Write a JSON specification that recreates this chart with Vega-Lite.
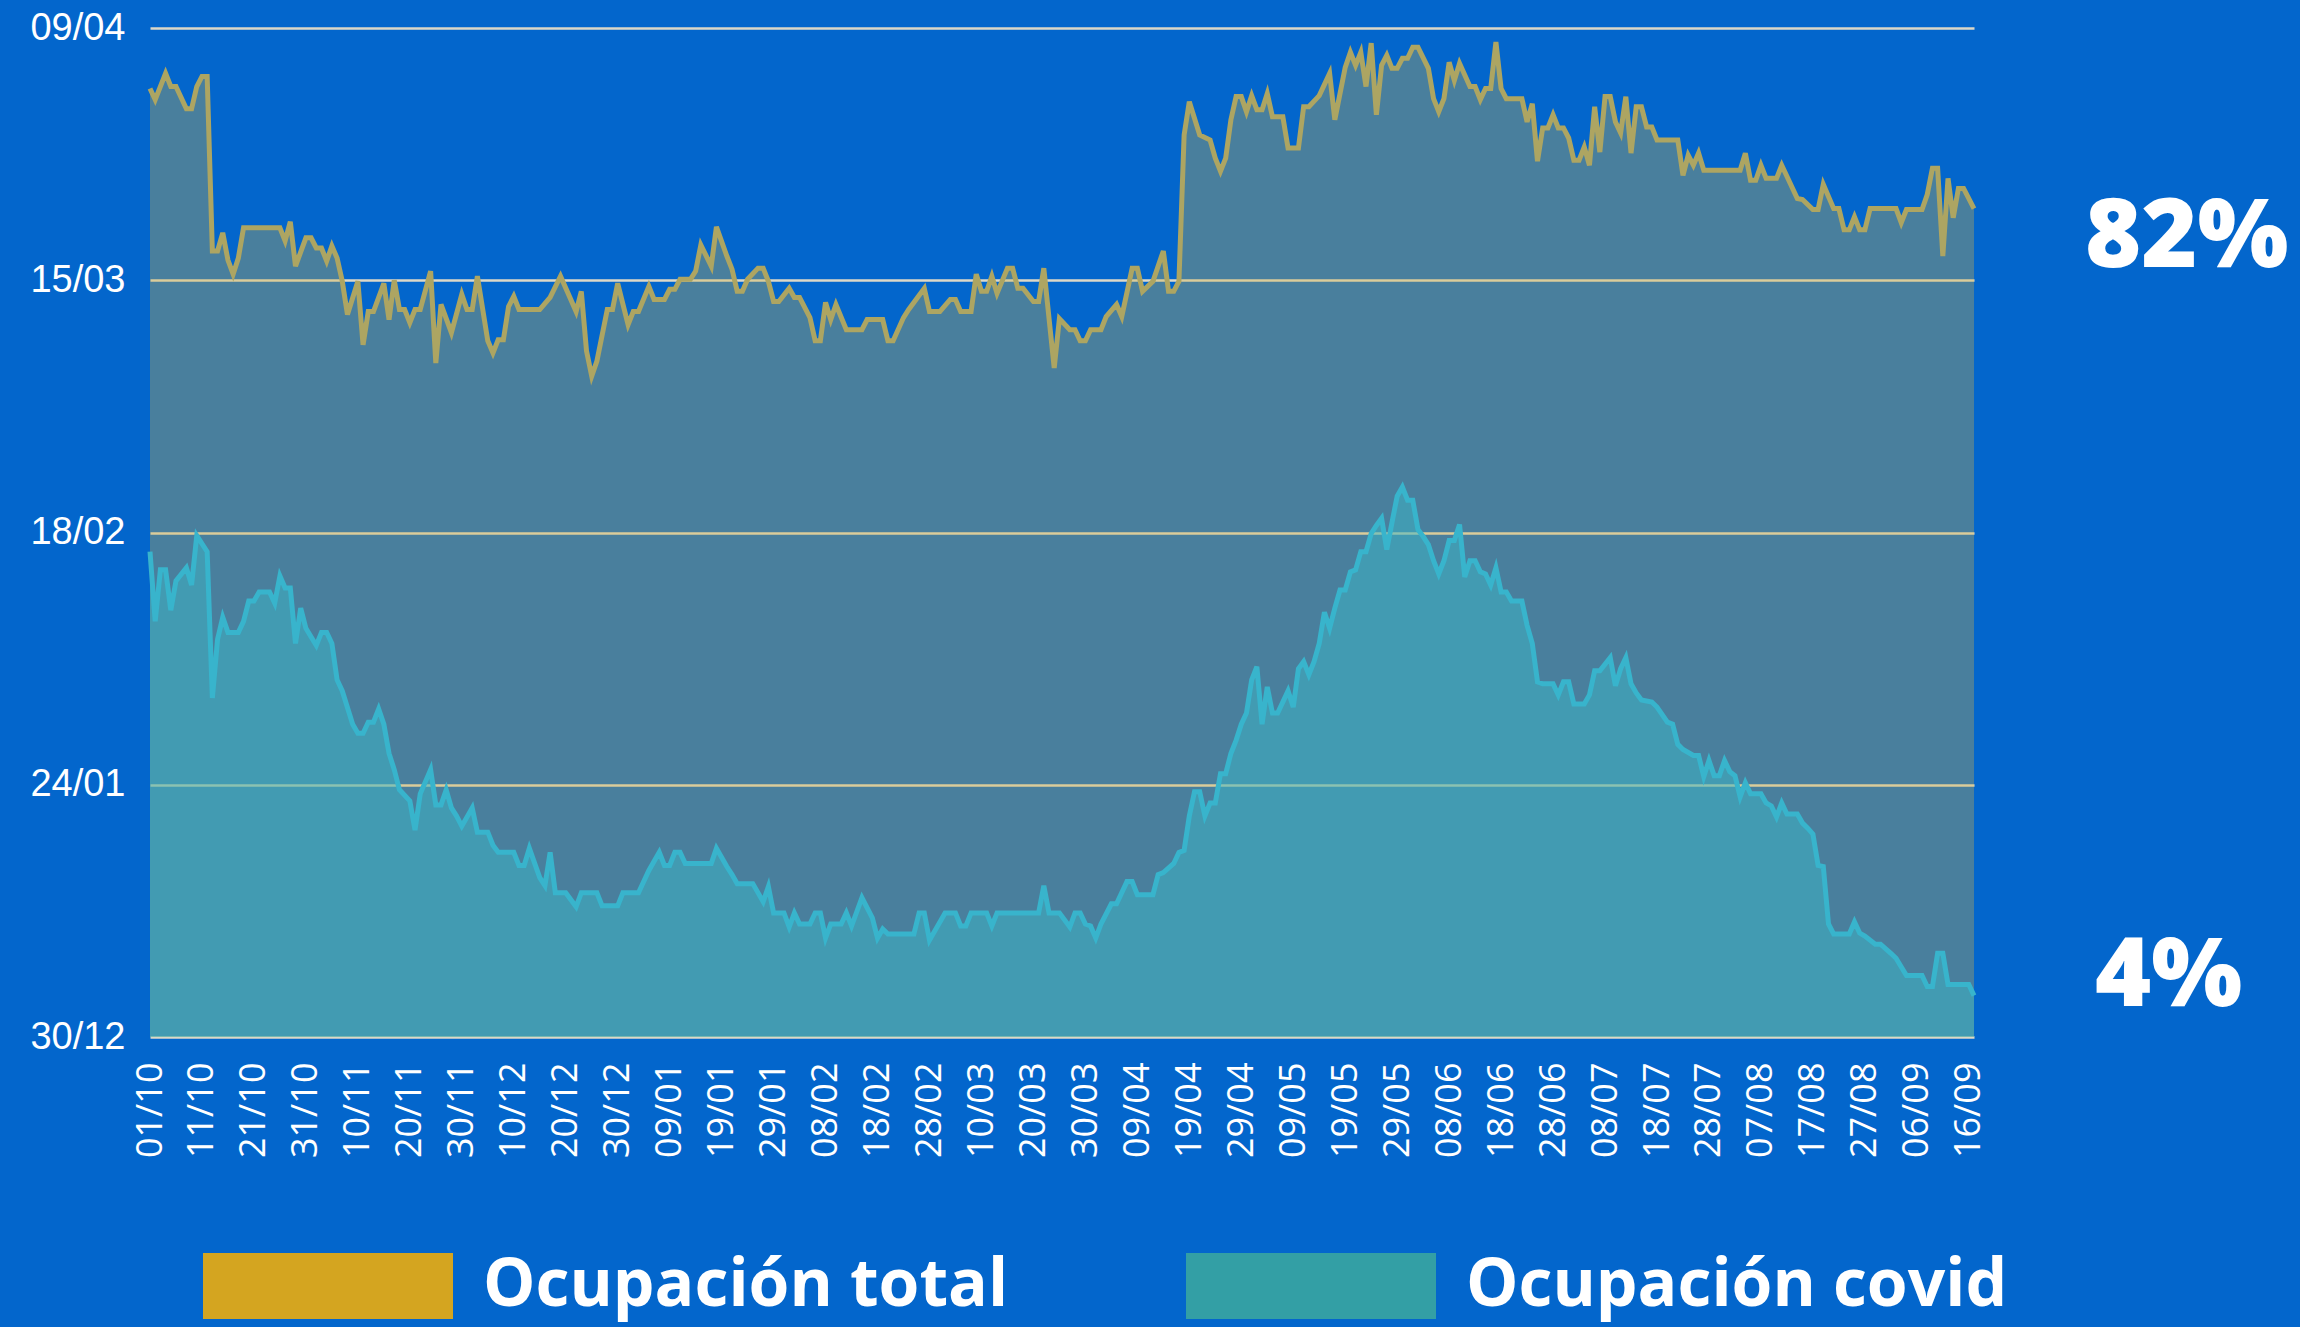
{
"$schema":"https://vega.github.io/schema/vega-lite/v6.json",
"width":1824,"height":1009,
"autosize":{"type":"none"},
"padding":{"left":150,"top":28,"right":326,"bottom":290},
"background":"#0366CC",
"config":{"view":{"stroke":null}},
"datasets":{
"total":[
{"fecha":"2020-10-01","valor":94.0},{"fecha":"2020-10-02","valor":92.9},{"fecha":"2020-10-04","valor":95.5},{"fecha":"2020-10-05","valor":94.2},{"fecha":"2020-10-06","valor":94.2},{"fecha":"2020-10-08","valor":92.0},{"fecha":"2020-10-09","valor":92.0},{"fecha":"2020-10-10","valor":94.2},{"fecha":"2020-10-11","valor":95.2},{"fecha":"2020-10-12","valor":95.2},{"fecha":"2020-10-13","valor":77.9},{"fecha":"2020-10-14","valor":77.9},{"fecha":"2020-10-15","valor":79.7},{"fecha":"2020-10-16","valor":77.0},{"fecha":"2020-10-17","valor":75.6},{"fecha":"2020-10-18","valor":77.2},{"fecha":"2020-10-19","valor":80.2},{"fecha":"2020-10-26","valor":80.2},{"fecha":"2020-10-27","valor":78.9},{"fecha":"2020-10-28","valor":80.8},{"fecha":"2020-10-29","valor":76.4},{"fecha":"2020-10-31","valor":79.2},
{"fecha":"2020-11-01","valor":79.2},{"fecha":"2020-11-02","valor":78.2},{"fecha":"2020-11-03","valor":78.2},{"fecha":"2020-11-04","valor":76.9},{"fecha":"2020-11-05","valor":78.4},{"fecha":"2020-11-06","valor":77.2},{"fecha":"2020-11-07","valor":74.9},{"fecha":"2020-11-08","valor":71.6},{"fecha":"2020-11-10","valor":74.9},{"fecha":"2020-11-11","valor":68.6},{"fecha":"2020-11-12","valor":71.9},{"fecha":"2020-11-13","valor":71.9},{"fecha":"2020-11-15","valor":74.7},{"fecha":"2020-11-16","valor":71.1},{"fecha":"2020-11-17","valor":75.0},{"fecha":"2020-11-18","valor":72.1},{"fecha":"2020-11-19","valor":72.1},{"fecha":"2020-11-20","valor":70.8},{"fecha":"2020-11-21","valor":72.1},{"fecha":"2020-11-22","valor":72.1},{"fecha":"2020-11-24","valor":75.9},{"fecha":"2020-11-25","valor":66.8},{"fecha":"2020-11-26","valor":72.6},{"fecha":"2020-11-28","valor":69.8},{"fecha":"2020-11-30","valor":73.6},
{"fecha":"2020-12-01","valor":72.1},{"fecha":"2020-12-02","valor":72.1},{"fecha":"2020-12-03","valor":75.4},{"fecha":"2020-12-05","valor":69.0},{"fecha":"2020-12-06","valor":67.8},{"fecha":"2020-12-07","valor":69.1},{"fecha":"2020-12-08","valor":69.1},{"fecha":"2020-12-09","valor":72.4},{"fecha":"2020-12-10","valor":73.4},{"fecha":"2020-12-11","valor":72.1},{"fecha":"2020-12-15","valor":72.1},{"fecha":"2020-12-17","valor":73.3},{"fecha":"2020-12-19","valor":75.4},{"fecha":"2020-12-22","valor":71.9},{"fecha":"2020-12-23","valor":73.9},{"fecha":"2020-12-24","valor":68.0},{"fecha":"2020-12-25","valor":65.5},{"fecha":"2020-12-26","valor":67.0},{"fecha":"2020-12-28","valor":72.1},{"fecha":"2020-12-29","valor":72.1},{"fecha":"2020-12-30","valor":74.7},
{"fecha":"2021-01-01","valor":70.6},{"fecha":"2021-01-02","valor":71.9},{"fecha":"2021-01-03","valor":71.9},{"fecha":"2021-01-05","valor":74.4},{"fecha":"2021-01-06","valor":73.1},{"fecha":"2021-01-08","valor":73.1},{"fecha":"2021-01-09","valor":74.1},{"fecha":"2021-01-10","valor":74.1},{"fecha":"2021-01-11","valor":75.1},{"fecha":"2021-01-13","valor":75.1},{"fecha":"2021-01-14","valor":75.9},{"fecha":"2021-01-15","valor":78.5},{"fecha":"2021-01-17","valor":76.4},{"fecha":"2021-01-18","valor":80.3},{"fecha":"2021-01-20","valor":77.4},{"fecha":"2021-01-21","valor":76.1},{"fecha":"2021-01-22","valor":73.9},{"fecha":"2021-01-23","valor":73.9},{"fecha":"2021-01-24","valor":75.1},{"fecha":"2021-01-26","valor":76.2},{"fecha":"2021-01-27","valor":76.2},{"fecha":"2021-01-28","valor":74.9},{"fecha":"2021-01-29","valor":72.9},{"fecha":"2021-01-30","valor":72.9},
{"fecha":"2021-02-01","valor":74.2},{"fecha":"2021-02-02","valor":73.3},{"fecha":"2021-02-03","valor":73.3},{"fecha":"2021-02-05","valor":71.3},{"fecha":"2021-02-06","valor":69.0},{"fecha":"2021-02-07","valor":69.0},{"fecha":"2021-02-08","valor":72.8},{"fecha":"2021-02-09","valor":71.1},{"fecha":"2021-02-10","valor":72.6},{"fecha":"2021-02-12","valor":70.1},{"fecha":"2021-02-15","valor":70.1},{"fecha":"2021-02-16","valor":71.1},{"fecha":"2021-02-19","valor":71.1},{"fecha":"2021-02-20","valor":69.0},{"fecha":"2021-02-21","valor":69.0},{"fecha":"2021-02-23","valor":71.3},{"fecha":"2021-02-24","valor":72.1},{"fecha":"2021-02-27","valor":74.2},{"fecha":"2021-02-28","valor":71.9},
{"fecha":"2021-03-02","valor":71.9},{"fecha":"2021-03-04","valor":73.1},{"fecha":"2021-03-05","valor":73.1},{"fecha":"2021-03-06","valor":71.9},{"fecha":"2021-03-08","valor":71.9},{"fecha":"2021-03-09","valor":75.6},{"fecha":"2021-03-10","valor":73.9},{"fecha":"2021-03-11","valor":73.9},{"fecha":"2021-03-12","valor":75.4},{"fecha":"2021-03-13","valor":73.7},{"fecha":"2021-03-15","valor":76.2},{"fecha":"2021-03-16","valor":76.2},{"fecha":"2021-03-17","valor":74.2},{"fecha":"2021-03-18","valor":74.2},{"fecha":"2021-03-20","valor":72.9},{"fecha":"2021-03-21","valor":72.9},{"fecha":"2021-03-22","valor":76.2},{"fecha":"2021-03-24","valor":66.3},{"fecha":"2021-03-25","valor":71.2},{"fecha":"2021-03-27","valor":70.1},{"fecha":"2021-03-28","valor":70.1},{"fecha":"2021-03-29","valor":69.0},{"fecha":"2021-03-30","valor":69.0},{"fecha":"2021-03-31","valor":70.1},
{"fecha":"2021-04-02","valor":70.1},{"fecha":"2021-04-03","valor":71.4},{"fecha":"2021-04-05","valor":72.6},{"fecha":"2021-04-06","valor":71.4},{"fecha":"2021-04-08","valor":76.2},{"fecha":"2021-04-09","valor":76.2},{"fecha":"2021-04-10","valor":73.9},{"fecha":"2021-04-12","valor":74.9},{"fecha":"2021-04-14","valor":77.9},{"fecha":"2021-04-15","valor":73.9},{"fecha":"2021-04-16","valor":73.9},{"fecha":"2021-04-17","valor":74.9},{"fecha":"2021-04-18","valor":89.4},{"fecha":"2021-04-19","valor":92.7},{"fecha":"2021-04-21","valor":89.4},{"fecha":"2021-04-23","valor":88.9},{"fecha":"2021-04-24","valor":87.1},{"fecha":"2021-04-25","valor":85.8},{"fecha":"2021-04-26","valor":87.1},{"fecha":"2021-04-27","valor":90.9},{"fecha":"2021-04-28","valor":93.2},{"fecha":"2021-04-29","valor":93.2},{"fecha":"2021-04-30","valor":91.7},
{"fecha":"2021-05-01","valor":93.3},{"fecha":"2021-05-02","valor":91.9},{"fecha":"2021-05-03","valor":91.9},{"fecha":"2021-05-04","valor":93.5},{"fecha":"2021-05-05","valor":91.2},{"fecha":"2021-05-07","valor":91.2},{"fecha":"2021-05-08","valor":88.1},{"fecha":"2021-05-10","valor":88.1},{"fecha":"2021-05-11","valor":92.2},{"fecha":"2021-05-12","valor":92.2},{"fecha":"2021-05-14","valor":93.3},{"fecha":"2021-05-16","valor":95.5},{"fecha":"2021-05-17","valor":90.9},{"fecha":"2021-05-19","valor":96.1},{"fecha":"2021-05-20","valor":97.6},{"fecha":"2021-05-21","valor":96.3},{"fecha":"2021-05-22","valor":97.6},{"fecha":"2021-05-23","valor":94.2},{"fecha":"2021-05-24","valor":98.5},{"fecha":"2021-05-25","valor":91.4},{"fecha":"2021-05-26","valor":96.3},{"fecha":"2021-05-27","valor":97.3},{"fecha":"2021-05-28","valor":96.0},{"fecha":"2021-05-29","valor":96.0},{"fecha":"2021-05-30","valor":97.0},{"fecha":"2021-05-31","valor":97.0},
{"fecha":"2021-06-01","valor":98.1},{"fecha":"2021-06-02","valor":98.1},{"fecha":"2021-06-04","valor":96.0},{"fecha":"2021-06-05","valor":93.0},{"fecha":"2021-06-06","valor":91.7},{"fecha":"2021-06-07","valor":93.0},{"fecha":"2021-06-08","valor":96.6},{"fecha":"2021-06-09","valor":94.8},{"fecha":"2021-06-10","valor":96.5},{"fecha":"2021-06-12","valor":94.2},{"fecha":"2021-06-13","valor":94.2},{"fecha":"2021-06-14","valor":92.9},{"fecha":"2021-06-15","valor":94.0},{"fecha":"2021-06-16","valor":94.0},{"fecha":"2021-06-17","valor":98.6},{"fecha":"2021-06-18","valor":94.0},{"fecha":"2021-06-19","valor":93.0},{"fecha":"2021-06-22","valor":93.0},{"fecha":"2021-06-23","valor":90.7},{"fecha":"2021-06-24","valor":92.5},{"fecha":"2021-06-25","valor":86.8},{"fecha":"2021-06-26","valor":90.1},{"fecha":"2021-06-27","valor":90.1},{"fecha":"2021-06-28","valor":91.4},{"fecha":"2021-06-29","valor":90.1},{"fecha":"2021-06-30","valor":90.1},
{"fecha":"2021-07-01","valor":89.1},{"fecha":"2021-07-02","valor":86.9},{"fecha":"2021-07-03","valor":86.9},{"fecha":"2021-07-04","valor":88.2},{"fecha":"2021-07-05","valor":86.4},{"fecha":"2021-07-06","valor":92.2},{"fecha":"2021-07-07","valor":87.7},{"fecha":"2021-07-08","valor":93.2},{"fecha":"2021-07-09","valor":93.2},{"fecha":"2021-07-10","valor":90.7},{"fecha":"2021-07-11","valor":89.6},{"fecha":"2021-07-12","valor":93.2},{"fecha":"2021-07-13","valor":87.6},{"fecha":"2021-07-14","valor":92.2},{"fecha":"2021-07-15","valor":92.2},{"fecha":"2021-07-16","valor":90.2},{"fecha":"2021-07-17","valor":90.2},{"fecha":"2021-07-18","valor":88.9},{"fecha":"2021-07-22","valor":88.9},{"fecha":"2021-07-23","valor":85.4},{"fecha":"2021-07-24","valor":87.4},{"fecha":"2021-07-25","valor":86.4},{"fecha":"2021-07-26","valor":87.6},{"fecha":"2021-07-27","valor":85.9},
{"fecha":"2021-08-03","valor":85.9},{"fecha":"2021-08-04","valor":87.6},{"fecha":"2021-08-05","valor":84.9},{"fecha":"2021-08-06","valor":84.9},{"fecha":"2021-08-07","valor":86.4},{"fecha":"2021-08-08","valor":85.1},{"fecha":"2021-08-10","valor":85.1},{"fecha":"2021-08-11","valor":86.4},{"fecha":"2021-08-14","valor":83.1},{"fecha":"2021-08-15","valor":83.0},{"fecha":"2021-08-17","valor":82.0},{"fecha":"2021-08-18","valor":82.0},{"fecha":"2021-08-19","valor":84.5},{"fecha":"2021-08-21","valor":82.1},{"fecha":"2021-08-22","valor":82.1},{"fecha":"2021-08-23","valor":80.0},{"fecha":"2021-08-24","valor":80.0},{"fecha":"2021-08-25","valor":81.3},{"fecha":"2021-08-26","valor":80.0},{"fecha":"2021-08-27","valor":80.0},{"fecha":"2021-08-28","valor":82.1},
{"fecha":"2021-09-02","valor":82.1},{"fecha":"2021-09-03","valor":80.7},{"fecha":"2021-09-04","valor":82.0},{"fecha":"2021-09-07","valor":82.0},{"fecha":"2021-09-08","valor":83.5},{"fecha":"2021-09-09","valor":86.1},{"fecha":"2021-09-10","valor":86.1},{"fecha":"2021-09-11","valor":77.4},{"fecha":"2021-09-12","valor":85.1},{"fecha":"2021-09-13","valor":81.2},{"fecha":"2021-09-14","valor":84.1},{"fecha":"2021-09-15","valor":84.1},{"fecha":"2021-09-17","valor":82.1}
],
"covid":[
{"fecha":"2020-10-01","valor":48.1},{"fecha":"2020-10-02","valor":41.2},{"fecha":"2020-10-03","valor":46.3},{"fecha":"2020-10-04","valor":46.3},{"fecha":"2020-10-05","valor":42.3},{"fecha":"2020-10-06","valor":45.2},{"fecha":"2020-10-08","valor":46.5},{"fecha":"2020-10-09","valor":44.8},{"fecha":"2020-10-10","valor":49.7},{"fecha":"2020-10-12","valor":48.1},{"fecha":"2020-10-13","valor":33.6},{"fecha":"2020-10-14","valor":39.4},{"fecha":"2020-10-15","valor":41.6},{"fecha":"2020-10-16","valor":40.1},{"fecha":"2020-10-18","valor":40.1},{"fecha":"2020-10-19","valor":41.2},{"fecha":"2020-10-20","valor":43.2},{"fecha":"2020-10-21","valor":43.2},{"fecha":"2020-10-22","valor":44.1},{"fecha":"2020-10-24","valor":44.1},{"fecha":"2020-10-25","valor":43.0},{"fecha":"2020-10-26","valor":45.7},{"fecha":"2020-10-27","valor":44.5},{"fecha":"2020-10-28","valor":44.5},{"fecha":"2020-10-29","valor":39.0},{"fecha":"2020-10-30","valor":42.5},{"fecha":"2020-10-31","valor":40.5},
{"fecha":"2020-11-02","valor":38.8},{"fecha":"2020-11-03","valor":40.1},{"fecha":"2020-11-04","valor":40.1},{"fecha":"2020-11-05","valor":39.0},{"fecha":"2020-11-06","valor":35.4},{"fecha":"2020-11-07","valor":34.3},{"fecha":"2020-11-09","valor":31.0},{"fecha":"2020-11-10","valor":30.1},{"fecha":"2020-11-11","valor":30.1},{"fecha":"2020-11-12","valor":31.2},{"fecha":"2020-11-13","valor":31.2},{"fecha":"2020-11-14","valor":32.5},{"fecha":"2020-11-15","valor":31.0},{"fecha":"2020-11-16","valor":28.1},{"fecha":"2020-11-17","valor":26.5},{"fecha":"2020-11-18","valor":24.5},{"fecha":"2020-11-20","valor":23.4},{"fecha":"2020-11-21","valor":20.5},{"fecha":"2020-11-22","valor":24.1},{"fecha":"2020-11-24","valor":26.5},{"fecha":"2020-11-25","valor":23.0},{"fecha":"2020-11-26","valor":23.0},{"fecha":"2020-11-27","valor":24.5},{"fecha":"2020-11-28","valor":22.7},{"fecha":"2020-11-29","valor":21.9},{"fecha":"2020-11-30","valor":20.9},
{"fecha":"2020-12-02","valor":22.7},{"fecha":"2020-12-03","valor":20.3},{"fecha":"2020-12-05","valor":20.3},{"fecha":"2020-12-06","valor":19.0},{"fecha":"2020-12-07","valor":18.3},{"fecha":"2020-12-10","valor":18.3},{"fecha":"2020-12-11","valor":17.0},{"fecha":"2020-12-12","valor":17.0},{"fecha":"2020-12-13","valor":18.7},{"fecha":"2020-12-15","valor":15.8},{"fecha":"2020-12-16","valor":15.0},{"fecha":"2020-12-17","valor":18.3},{"fecha":"2020-12-18","valor":14.3},{"fecha":"2020-12-20","valor":14.3},{"fecha":"2020-12-22","valor":12.9},{"fecha":"2020-12-23","valor":14.3},{"fecha":"2020-12-26","valor":14.3},{"fecha":"2020-12-27","valor":13.0},{"fecha":"2020-12-30","valor":13.0},{"fecha":"2020-12-31","valor":14.3},
{"fecha":"2021-01-03","valor":14.3},{"fecha":"2021-01-05","valor":16.5},{"fecha":"2021-01-07","valor":18.3},{"fecha":"2021-01-08","valor":17.0},{"fecha":"2021-01-09","valor":17.0},{"fecha":"2021-01-10","valor":18.3},{"fecha":"2021-01-11","valor":18.3},{"fecha":"2021-01-12","valor":17.2},{"fecha":"2021-01-17","valor":17.2},{"fecha":"2021-01-18","valor":18.7},{"fecha":"2021-01-20","valor":16.9},{"fecha":"2021-01-21","valor":16.1},{"fecha":"2021-01-22","valor":15.2},{"fecha":"2021-01-25","valor":15.2},{"fecha":"2021-01-27","valor":13.4},{"fecha":"2021-01-28","valor":14.9},{"fecha":"2021-01-29","valor":12.3},{"fecha":"2021-01-31","valor":12.3},
{"fecha":"2021-02-01","valor":10.9},{"fecha":"2021-02-02","valor":12.3},{"fecha":"2021-02-03","valor":11.2},{"fecha":"2021-02-05","valor":11.2},{"fecha":"2021-02-06","valor":12.3},{"fecha":"2021-02-07","valor":12.3},{"fecha":"2021-02-08","valor":9.8},{"fecha":"2021-02-09","valor":11.2},{"fecha":"2021-02-11","valor":11.2},{"fecha":"2021-02-12","valor":12.3},{"fecha":"2021-02-13","valor":11.0},{"fecha":"2021-02-15","valor":13.8},{"fecha":"2021-02-17","valor":11.8},{"fecha":"2021-02-18","valor":9.8},{"fecha":"2021-02-19","valor":10.7},{"fecha":"2021-02-20","valor":10.2},{"fecha":"2021-02-25","valor":10.2},{"fecha":"2021-02-26","valor":12.3},{"fecha":"2021-02-27","valor":12.3},{"fecha":"2021-02-28","valor":9.6},
{"fecha":"2021-03-03","valor":12.3},{"fecha":"2021-03-05","valor":12.3},{"fecha":"2021-03-06","valor":11.0},{"fecha":"2021-03-07","valor":11.0},{"fecha":"2021-03-08","valor":12.3},{"fecha":"2021-03-11","valor":12.3},{"fecha":"2021-03-12","valor":11.0},{"fecha":"2021-03-13","valor":12.3},{"fecha":"2021-03-21","valor":12.3},{"fecha":"2021-03-22","valor":15.0},{"fecha":"2021-03-23","valor":12.3},{"fecha":"2021-03-25","valor":12.3},{"fecha":"2021-03-27","valor":10.9},{"fecha":"2021-03-28","valor":12.3},{"fecha":"2021-03-29","valor":12.3},{"fecha":"2021-03-30","valor":11.2},{"fecha":"2021-03-31","valor":11.0},
{"fecha":"2021-04-01","valor":9.8},{"fecha":"2021-04-02","valor":11.2},{"fecha":"2021-04-04","valor":13.2},{"fecha":"2021-04-05","valor":13.2},{"fecha":"2021-04-07","valor":15.4},{"fecha":"2021-04-08","valor":15.4},{"fecha":"2021-04-09","valor":14.1},{"fecha":"2021-04-12","valor":14.1},{"fecha":"2021-04-13","valor":16.1},{"fecha":"2021-04-14","valor":16.3},{"fecha":"2021-04-16","valor":17.2},{"fecha":"2021-04-17","valor":18.3},{"fecha":"2021-04-18","valor":18.5},{"fecha":"2021-04-19","valor":21.9},{"fecha":"2021-04-20","valor":24.3},{"fecha":"2021-04-21","valor":24.3},{"fecha":"2021-04-22","valor":21.9},{"fecha":"2021-04-23","valor":23.2},{"fecha":"2021-04-24","valor":23.2},{"fecha":"2021-04-25","valor":26.1},{"fecha":"2021-04-26","valor":26.1},{"fecha":"2021-04-27","valor":28.1},{"fecha":"2021-04-28","valor":29.4},{"fecha":"2021-04-29","valor":31.0},{"fecha":"2021-04-30","valor":32.1},
{"fecha":"2021-05-01","valor":35.4},{"fecha":"2021-05-02","valor":36.7},{"fecha":"2021-05-03","valor":31.0},{"fecha":"2021-05-04","valor":34.7},{"fecha":"2021-05-05","valor":32.1},{"fecha":"2021-05-06","valor":32.1},{"fecha":"2021-05-08","valor":34.3},{"fecha":"2021-05-09","valor":32.7},{"fecha":"2021-05-10","valor":36.5},{"fecha":"2021-05-11","valor":37.2},{"fecha":"2021-05-12","valor":35.9},{"fecha":"2021-05-13","valor":37.2},{"fecha":"2021-05-14","valor":39.0},{"fecha":"2021-05-15","valor":42.1},{"fecha":"2021-05-16","valor":40.5},{"fecha":"2021-05-17","valor":42.5},{"fecha":"2021-05-18","valor":44.3},{"fecha":"2021-05-19","valor":44.3},{"fecha":"2021-05-20","valor":46.1},{"fecha":"2021-05-21","valor":46.3},{"fecha":"2021-05-22","valor":48.1},{"fecha":"2021-05-23","valor":48.1},{"fecha":"2021-05-24","valor":49.9},{"fecha":"2021-05-25","valor":50.7},{"fecha":"2021-05-26","valor":51.4},{"fecha":"2021-05-27","valor":48.3},{"fecha":"2021-05-28","valor":51.0},{"fecha":"2021-05-29","valor":53.6},{"fecha":"2021-05-30","valor":54.5},{"fecha":"2021-05-31","valor":53.2},
{"fecha":"2021-06-01","valor":53.2},{"fecha":"2021-06-02","valor":50.3},{"fecha":"2021-06-03","valor":49.6},{"fecha":"2021-06-04","valor":48.8},{"fecha":"2021-06-05","valor":47.2},{"fecha":"2021-06-06","valor":45.9},{"fecha":"2021-06-07","valor":47.2},{"fecha":"2021-06-08","valor":49.2},{"fecha":"2021-06-09","valor":49.2},{"fecha":"2021-06-10","valor":50.8},{"fecha":"2021-06-11","valor":45.6},{"fecha":"2021-06-12","valor":47.2},{"fecha":"2021-06-13","valor":47.2},{"fecha":"2021-06-14","valor":46.1},{"fecha":"2021-06-15","valor":45.9},{"fecha":"2021-06-16","valor":44.8},{"fecha":"2021-06-17","valor":46.5},{"fecha":"2021-06-18","valor":44.1},{"fecha":"2021-06-19","valor":44.1},{"fecha":"2021-06-20","valor":43.2},{"fecha":"2021-06-22","valor":43.2},{"fecha":"2021-06-23","valor":40.8},{"fecha":"2021-06-24","valor":39.0},{"fecha":"2021-06-25","valor":35.2},{"fecha":"2021-06-26","valor":35.0},{"fecha":"2021-06-28","valor":35.0},{"fecha":"2021-06-29","valor":33.9},{"fecha":"2021-06-30","valor":35.2},
{"fecha":"2021-07-01","valor":35.2},{"fecha":"2021-07-02","valor":33.0},{"fecha":"2021-07-04","valor":33.0},{"fecha":"2021-07-05","valor":33.9},{"fecha":"2021-07-06","valor":36.3},{"fecha":"2021-07-07","valor":36.3},{"fecha":"2021-07-09","valor":37.6},{"fecha":"2021-07-10","valor":34.8},{"fecha":"2021-07-11","valor":36.5},{"fecha":"2021-07-12","valor":37.6},{"fecha":"2021-07-13","valor":35.0},{"fecha":"2021-07-14","valor":34.1},{"fecha":"2021-07-15","valor":33.4},{"fecha":"2021-07-17","valor":33.2},{"fecha":"2021-07-18","valor":32.7},{"fecha":"2021-07-20","valor":31.2},{"fecha":"2021-07-21","valor":31.0},{"fecha":"2021-07-22","valor":29.0},{"fecha":"2021-07-23","valor":28.5},{"fecha":"2021-07-25","valor":27.9},{"fecha":"2021-07-26","valor":27.9},{"fecha":"2021-07-27","valor":25.8},{"fecha":"2021-07-28","valor":27.4},{"fecha":"2021-07-29","valor":25.9},{"fecha":"2021-07-30","valor":25.9},{"fecha":"2021-07-31","valor":27.4},
{"fecha":"2021-08-01","valor":26.3},{"fecha":"2021-08-02","valor":25.9},{"fecha":"2021-08-03","valor":23.8},{"fecha":"2021-08-04","valor":25.2},{"fecha":"2021-08-05","valor":24.1},{"fecha":"2021-08-07","valor":24.1},{"fecha":"2021-08-08","valor":23.2},{"fecha":"2021-08-09","valor":22.9},{"fecha":"2021-08-10","valor":21.8},{"fecha":"2021-08-11","valor":23.2},{"fecha":"2021-08-12","valor":22.1},{"fecha":"2021-08-14","valor":22.1},{"fecha":"2021-08-15","valor":21.2},{"fecha":"2021-08-16","valor":20.7},{"fecha":"2021-08-17","valor":20.1},{"fecha":"2021-08-18","valor":17.0},{"fecha":"2021-08-19","valor":16.9},{"fecha":"2021-08-20","valor":11.2},{"fecha":"2021-08-21","valor":10.2},{"fecha":"2021-08-24","valor":10.2},{"fecha":"2021-08-25","valor":11.4},{"fecha":"2021-08-26","valor":10.3},{"fecha":"2021-08-27","valor":10.0},{"fecha":"2021-08-29","valor":9.2},{"fecha":"2021-08-30","valor":9.2},
{"fecha":"2021-09-01","valor":8.3},{"fecha":"2021-09-02","valor":7.8},{"fecha":"2021-09-04","valor":6.1},{"fecha":"2021-09-07","valor":6.1},{"fecha":"2021-09-08","valor":5.0},{"fecha":"2021-09-09","valor":5.0},{"fecha":"2021-09-10","valor":8.3},{"fecha":"2021-09-11","valor":8.3},{"fecha":"2021-09-12","valor":5.2},{"fecha":"2021-09-16","valor":5.2},{"fecha":"2021-09-17","valor":4.1}
],
"etiquetas":[
{"fecha":"2021-09-17","serie":"Ocupación total","valor":82.1,"texto":"82%"},
{"fecha":"2021-09-17","serie":"Ocupación covid","valor":4.1,"texto":"4%"}
]
},
"layer":[
{"data":{"name":"total"},
 "mark":{"type":"area","fill":"#D7B23C","fillOpacity":0.33,"interpolate":"linear"},
 "encoding":{
  "x":{"field":"fecha","type":"temporal",
       "scale":{"type":"utc","domain":[{"year":2020,"month":10,"date":1,"utc":true},{"year":2021,"month":9,"date":17,"utc":true}]},
       "axis":{"title":null,"format":"%d/%m","labelAngle":-90,"labelFont":"Open Sans","labelFontSize":36,"labelColor":"white","labelPadding":25,"labelFlush":false,"labelOverlap":false,"ticks":false,"domain":false,"grid":false,
        "values":[
{"year":2020,"month":10,"date":1,"utc":true},{"year":2020,"month":10,"date":11,"utc":true},{"year":2020,"month":10,"date":21,"utc":true},{"year":2020,"month":10,"date":31,"utc":true},
{"year":2020,"month":11,"date":10,"utc":true},{"year":2020,"month":11,"date":20,"utc":true},{"year":2020,"month":11,"date":30,"utc":true},
{"year":2020,"month":12,"date":10,"utc":true},{"year":2020,"month":12,"date":20,"utc":true},{"year":2020,"month":12,"date":30,"utc":true},
{"year":2021,"month":1,"date":9,"utc":true},{"year":2021,"month":1,"date":19,"utc":true},{"year":2021,"month":1,"date":29,"utc":true},
{"year":2021,"month":2,"date":8,"utc":true},{"year":2021,"month":2,"date":18,"utc":true},{"year":2021,"month":2,"date":28,"utc":true},
{"year":2021,"month":3,"date":10,"utc":true},{"year":2021,"month":3,"date":20,"utc":true},{"year":2021,"month":3,"date":30,"utc":true},
{"year":2021,"month":4,"date":9,"utc":true},{"year":2021,"month":4,"date":19,"utc":true},{"year":2021,"month":4,"date":29,"utc":true},
{"year":2021,"month":5,"date":9,"utc":true},{"year":2021,"month":5,"date":19,"utc":true},{"year":2021,"month":5,"date":29,"utc":true},
{"year":2021,"month":6,"date":8,"utc":true},{"year":2021,"month":6,"date":18,"utc":true},{"year":2021,"month":6,"date":28,"utc":true},
{"year":2021,"month":7,"date":8,"utc":true},{"year":2021,"month":7,"date":18,"utc":true},{"year":2021,"month":7,"date":28,"utc":true},
{"year":2021,"month":8,"date":7,"utc":true},{"year":2021,"month":8,"date":17,"utc":true},{"year":2021,"month":8,"date":27,"utc":true},
{"year":2021,"month":9,"date":6,"utc":true},{"year":2021,"month":9,"date":16,"utc":true}]}},
  "y":{"field":"valor","type":"quantitative","scale":{"domain":[0,100],"nice":false,"zero":true},
       "axis":{"title":null,"values":[0,25,50,75,100],"domain":false,"ticks":false,"grid":true,"gridColor":"#DCD8C8","gridWidth":2.5,"labelFont":"Liberation Sans","labelFontSize":38,"labelColor":"white","labelPadding":25,
        "labelExpr":"datum.value == 0 ? '30/12' : datum.value == 25 ? '24/01' : datum.value == 50 ? '18/02' : datum.value == 75 ? '15/03' : '09/04'"}}
 }},
{"data":{"name":"covid"},
 "mark":{"type":"area","fill":"#3BB7C7","fillOpacity":0.5,"interpolate":"linear"},
 "encoding":{"x":{"field":"fecha","type":"temporal"},"y":{"field":"valor","type":"quantitative"}}},
{"data":{"name":"total"},
 "mark":{"type":"line","stroke":"#ADA562","strokeWidth":5,"strokeJoin":"miter","interpolate":"linear"},
 "encoding":{"x":{"field":"fecha","type":"temporal"},"y":{"field":"valor","type":"quantitative"}}},
{"data":{"name":"covid"},
 "mark":{"type":"line","stroke":"#38B4CC","strokeWidth":5,"strokeJoin":"miter","interpolate":"linear"},
 "encoding":{"x":{"field":"fecha","type":"temporal"},"y":{"field":"valor","type":"quantitative"}}},
{"data":{"name":"etiquetas"},
 "mark":{"type":"square","opacity":0},
 "encoding":{"x":{"field":"fecha","type":"temporal"},"y":{"field":"valor","type":"quantitative"},
  "color":{"field":"serie","type":"nominal","scale":{"domain":["Ocupación total","Ocupación covid"],"range":["#D4A520","#339FA5"]},
   "legend":{"orient":"none","legendX":53,"legendY":1133,"direction":"horizontal","title":null,"padding":0,
    "symbolType":"M-1,-0.264H1V0.264H-1Z","symbolSize":62500,"symbolOpacity":1,"symbolStrokeWidth":0,
    "labelFont":"Open Sans","labelFontWeight":"bold","labelFontSize":66,"labelColor":"white","labelOffset":30,"columnPadding":177,"labelLimit":1000}}}},
{"data":{"name":"etiquetas"},
 "transform":[{"filter":"datum.serie == 'Ocupación total'"}],
 "mark":{"type":"text","align":"left","baseline":"alphabetic","dx":111,"dy":58,"font":"Open Sans","fontWeight":800,"fontSize":96,"color":"white"},
 "encoding":{"x":{"field":"fecha","type":"temporal"},"y":{"field":"valor","type":"quantitative"},"text":{"field":"texto"}}},
{"data":{"name":"etiquetas"},
 "transform":[{"filter":"datum.serie == 'Ocupación covid'"}],
 "mark":{"type":"text","align":"left","baseline":"alphabetic","dx":121,"dy":10,"font":"Open Sans","fontWeight":800,"fontSize":96,"color":"white"},
 "encoding":{"x":{"field":"fecha","type":"temporal"},"y":{"field":"valor","type":"quantitative"},"text":{"field":"texto"}}}
]
}
